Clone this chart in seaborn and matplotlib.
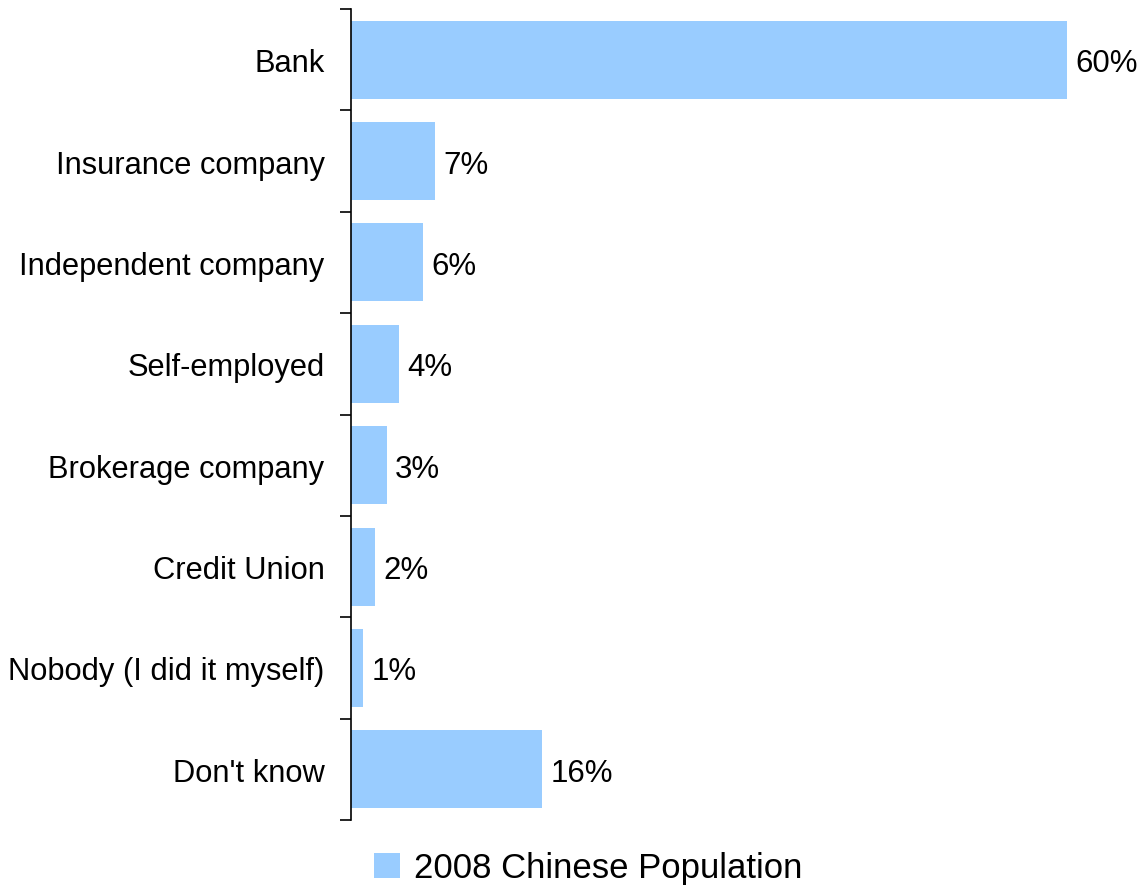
import matplotlib
matplotlib.use("Agg")
import matplotlib.pyplot as plt
import seaborn as sns
import pandas as pd
import numpy as np
from matplotlib.patches import Patch

categories = ["Bank", "Insurance company", "Independent company", "Self-employed",
              "Brokerage company", "Credit Union", "Nobody (I did it myself)", "Don't know"]
values = [60, 7, 6, 4, 3, 2, 1, 16]
series_name = "2008 Chinese Population"
bar_color = "#99CCFF"

sns.set_theme(style="white")
plt.rcParams["font.family"] = ["Liberation Sans", "DejaVu Sans"]

df = pd.DataFrame({"category": categories, "value": values})

W, H = 1142, 887
fig = plt.figure(figsize=(W / 100, H / 100), dpi=100)
ax = fig.add_axes([351 / W, 1 - 821 / H, (1100 - 351) / W, (821 - 10) / H])

sns.barplot(data=df, y="category", x="value", color=bar_color, width=0.77,
            saturation=1, ax=ax, orient="h", linewidth=0)

ax.set_xlim(0, (1100 - 351) / ((1067 - 351) / 60))
ax.set_ylim(len(categories) - 0.5, -0.5)

for spine in ["top", "right", "bottom"]:
    ax.spines[spine].set_visible(False)
ax.spines["left"].set_color("black")
ax.spines["left"].set_linewidth(1.2)
ax.set_xticks([])
ax.set_xlabel("")
ax.set_ylabel("")

# category boundaries carry the tick marks
ax.set_yticks(np.arange(-0.5, len(categories), 1.0), minor=True)
ax.tick_params(axis="y", which="minor", length=8, width=1.2, color="black", direction="out", left=True)
ax.tick_params(axis="y", which="major", length=0, pad=19, labelsize=22.2, labelcolor="black")

for i, v in enumerate(values):
    ax.text(v + 0.7, i, f"{v}%", va="center_baseline", ha="left", fontsize=22.5, color="black")

handles = [Patch(facecolor=bar_color, edgecolor="none", label=series_name)]
leg = fig.legend(handles=handles, loc="center", bbox_to_anchor=(588 / W, 1 - 869 / H),
                 frameon=False, fontsize=25, handlelength=0.75, handleheight=0.75,
                 handletextpad=0.4, borderpad=0)
for t in leg.get_texts():
    t.set_color("black")

fig.savefig("out.png", dpi=100)
